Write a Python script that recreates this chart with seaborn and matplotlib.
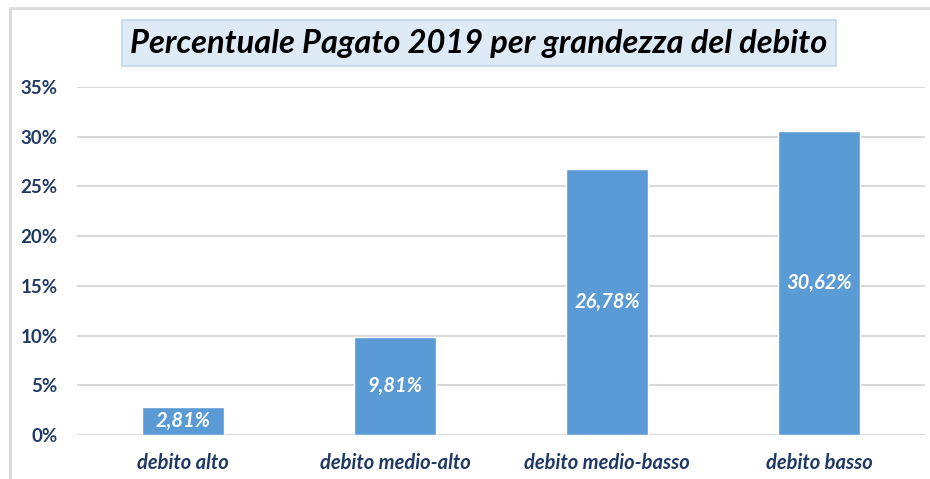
import pandas as pd
import matplotlib.pyplot as plt
import seaborn as sns
from matplotlib.patches import Rectangle
from matplotlib.ticker import FuncFormatter

# dati
categorie = ["debito alto", "debito medio-alto", "debito medio-basso", "debito basso"]
percentuali = [2.81, 9.81, 26.78, 30.62]
etichette = ["2,81%", "9,81%", "26,78%", "30,62%"]
y_ticks = [0, 5, 10, 15, 20, 25, 30, 35]

df = pd.DataFrame({"categoria": categorie, "pagato": percentuali})

navy = "#1F3864"
blu = "#5B9BD5"

sns.set_style("white")
plt.rcParams['font.family'] = ['Lato', 'DejaVu Sans']

fig = plt.figure(figsize=(9.3, 4.79), dpi=100)
ax = fig.add_axes([0.0828, 0.0919, 0.9118, 0.7265])

sns.barplot(data=df, x="categoria", y="pagato", color=blu, width=0.39,
            saturation=1, ax=ax, zorder=3)

# etichette dentro le barre (centrate)
for i, (v, lab) in enumerate(zip(percentuali, etichette)):
    ax.text(i, v / 2, lab, ha="center", va="center", color="white",
            fontsize=14.5, fontweight="bold", fontstyle="italic", zorder=4)

ax.set_ylim(0, 35)
ax.set_xlim(-0.5, 3.5)
ax.set_yticks(y_ticks)
ax.yaxis.set_major_formatter(FuncFormatter(lambda v, p: f"{int(v)}%"))
ax.grid(axis="y", color="#D9D9D9", linewidth=1.5, zorder=0)
ax.set_xlabel("")
ax.set_ylabel("")
for s in ax.spines.values():
    s.set_visible(False)
ax.tick_params(axis="both", length=0)
ax.tick_params(axis="y", pad=14, labelsize=13.5, labelcolor=navy)
ax.tick_params(axis="x", pad=13, labelsize=14.5, labelcolor=navy)
for t in ax.get_yticklabels():
    t.set_fontweight("bold")
for t in ax.get_xticklabels():
    t.set_fontweight("bold")
    t.set_fontstyle("italic")

# titolo in riquadro
fig.text(0.515, 0.910, "Percentuale Pagato 2019 per grandezza del debito",
         ha="center", va="center", fontsize=23.5, fontweight="bold",
         fontstyle="italic", color="black",
         bbox=dict(boxstyle="square,pad=0.25", facecolor="#DEEBF7",
                   edgecolor="#BDD7EE", linewidth=1.2))

# bordo del grafico
fig.patches.append(Rectangle((10 / 930, -0.1), 1.2, 1.1 - 8 / 479,
                             transform=fig.transFigure, fill=False,
                             edgecolor="#D9D9D9", linewidth=2))

fig.savefig("out.png", dpi=100)
